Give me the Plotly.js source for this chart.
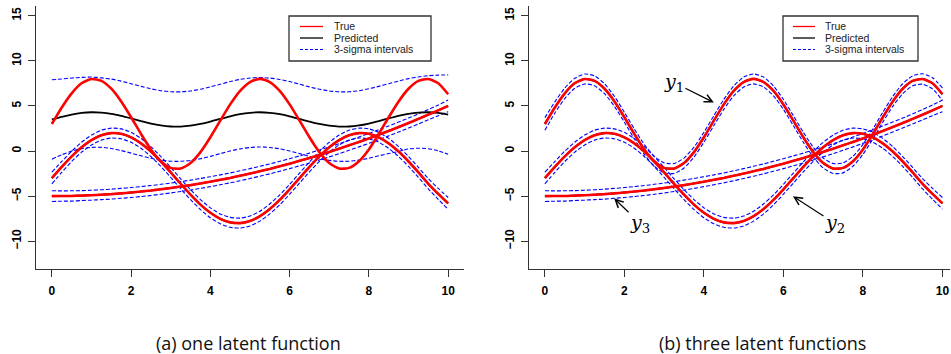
<!DOCTYPE html>
<html>
<head>
<meta charset="utf-8">
<script src="https://cdn.plot.ly/plotly-3.0.1.min.js"></script>
<style>html,body{margin:0;padding:0;background:#fff;}#chart{width:951px;height:354px;}</style>
</head>
<body>
<div id="chart"></div>
<script>
// ---- data ----
const xs = [0,0.25,0.5,0.75,1,1.25,1.5,1.75,2,2.25,2.5,2.75,3,3.25,3.5,3.75,4,4.25,4.5,4.75,5,5.25,5.5,5.75,6,6.25,6.5,6.75,7,7.25,7.5,7.75,8,8.25,8.5,8.75,9,9.25,9.5,9.75,10];

// true outputs
const y1True = [3.00,4.83,6.40,7.51,7.99,7.78,6.91,5.50,3.75,1.89,0.18,-1.13,-1.87,-1.94,-1.33,-0.12,1.53,3.37,5.17,6.67,7.65,8.00,7.65,6.67,5.17,3.37,1.53,-0.12,-1.33,-1.94,-1.87,-1.13,0.18,1.89,3.75,5.50,6.91,7.78,7.99,7.51,6.30];
const y2True = [-3.00,-1.76,-0.59,0.42,1.22,1.76,1.99,1.91,1.52,0.85,-0.06,-1.16,-2.37,-3.63,-4.84,-5.94,-6.85,-7.52,-7.91,-7.99,-7.76,-7.22,-6.42,-5.41,-4.24,-3.00,-1.76,-0.59,0.42,1.22,1.76,1.99,1.91,1.52,0.85,-0.06,-1.16,-2.37,-3.63,-4.75,-5.80];
const y3True = [-5.00,-4.99,-4.98,-4.94,-4.90,-4.84,-4.78,-4.69,-4.60,-4.49,-4.38,-4.24,-4.10,-3.94,-3.78,-3.59,-3.40,-3.19,-2.98,-2.74,-2.50,-2.24,-1.98,-1.69,-1.40,-1.09,-0.78,-0.44,-0.10,0.26,0.63,1.01,1.40,1.81,2.23,2.66,3.10,3.56,4.03,4.51,5.00];

// (a) one latent function: prediction of y1 and its 3-sigma band
const y1PredA = [3.50,3.79,4.04,4.22,4.30,4.26,4.13,3.90,3.62,3.32,3.05,2.84,2.72,2.71,2.81,3.00,3.26,3.56,3.85,4.09,4.24,4.30,4.24,4.09,3.85,3.56,3.26,3.00,2.81,2.71,2.72,2.84,3.05,3.32,3.62,3.90,4.13,4.26,4.30,4.22,4.04];
const y1UpA = [7.90,7.99,8.09,8.17,8.20,8.11,7.98,7.75,7.47,7.17,6.90,6.69,6.57,6.56,6.66,6.85,7.11,7.41,7.70,7.94,8.09,8.15,8.09,7.94,7.70,7.41,7.11,6.85,6.66,6.56,6.57,6.69,6.90,7.17,7.47,7.75,8.03,8.21,8.35,8.42,8.44];
const y1LoA = [-0.90,-0.41,-0.01,0.27,0.40,0.41,0.28,0.05,-0.23,-0.53,-0.80,-1.01,-1.13,-1.14,-1.04,-0.85,-0.59,-0.29,0.00,0.24,0.39,0.45,0.39,0.24,0.00,-0.29,-0.59,-0.85,-1.04,-1.14,-1.13,-1.01,-0.80,-0.53,-0.28,-0.05,0.23,0.31,0.25,0.02,-0.36];

// (b) three latent functions: 3-sigma band of y1
const y1UpB = [3.70,5.45,6.98,8.06,8.54,8.33,7.46,6.05,4.30,2.44,0.73,-0.58,-1.32,-1.39,-0.78,0.43,2.08,3.92,5.72,7.22,8.20,8.55,8.20,7.22,5.72,3.92,2.08,0.43,-0.78,-1.39,-1.32,-0.58,0.73,2.44,4.30,6.05,7.46,8.33,8.57,8.13,7.00];
const y1LoB = [2.30,4.21,5.82,6.96,7.44,7.23,6.36,4.95,3.20,1.34,-0.37,-1.68,-2.42,-2.49,-1.88,-0.67,0.98,2.82,4.62,6.12,7.10,7.45,7.10,6.12,4.62,2.82,0.98,-0.67,-1.88,-2.49,-2.42,-1.68,-0.37,1.34,3.20,4.95,6.36,7.23,7.41,6.89,5.60];

// 3-sigma bands of y2 and y3 (both panels)
const y2Up = [-2.35,-1.16,-0.02,0.97,1.77,2.31,2.54,2.46,2.07,1.40,0.49,-0.61,-1.82,-3.08,-4.29,-5.39,-6.30,-6.97,-7.36,-7.44,-7.21,-6.67,-5.87,-4.86,-3.69,-2.45,-1.21,-0.04,0.97,1.77,2.31,2.54,2.46,2.07,1.40,0.49,-0.61,-1.82,-3.06,-4.15,-5.15];
const y2Lo = [-3.65,-2.36,-1.16,-0.13,0.67,1.21,1.44,1.36,0.97,0.30,-0.61,-1.71,-2.92,-4.18,-5.39,-6.49,-7.40,-8.07,-8.46,-8.54,-8.31,-7.77,-6.97,-5.96,-4.79,-3.55,-2.31,-1.14,-0.13,0.67,1.21,1.44,1.36,0.97,0.30,-0.61,-1.71,-2.92,-4.20,-5.35,-6.45];
const y3Up = [-4.40,-4.42,-4.41,-4.39,-4.35,-4.29,-4.23,-4.14,-4.05,-3.94,-3.83,-3.69,-3.55,-3.39,-3.23,-3.04,-2.85,-2.64,-2.43,-2.19,-1.95,-1.69,-1.43,-1.14,-0.85,-0.54,-0.23,0.11,0.45,0.81,1.18,1.56,1.95,2.36,2.78,3.21,3.65,4.12,4.60,5.10,5.65];
const y3Lo = [-5.60,-5.56,-5.55,-5.49,-5.45,-5.39,-5.33,-5.24,-5.15,-5.04,-4.93,-4.79,-4.65,-4.49,-4.33,-4.14,-3.95,-3.74,-3.53,-3.29,-3.05,-2.79,-2.53,-2.24,-1.95,-1.64,-1.33,-0.99,-0.65,-0.29,0.08,0.46,0.85,1.26,1.68,2.11,2.55,3.00,3.46,3.92,4.35];

const xTicks = [0,2,4,6,8,10];
const yTicks = [-10,-5,0,5,10,15];
const legendLabels = ['True','Predicted','3-sigma intervals'];
const captions = ['(a) one latent function','(b) three latent functions'];
const curveLabels = ['y','y','y'];
const curveSubs = ['1','2','3'];

// ---- styles ----
const RED = '#ff0000', BLACK = '#000000', BLUE = '#0000ff';
const W = 951, H = 354;
const px = v => v / W;
const py = v => 1 - v / H;

function ln(y, xa, ya, color, width, dash) {
  return {x: xs, y: y, xaxis: xa, yaxis: ya, type: 'scatter', mode: 'lines',
          line: {color: color, width: width, dash: dash || 'solid', shape: 'spline', smoothing: 0.6},
          hoverinfo: 'skip', showlegend: false};
}
const DASH = '4px,2px';
const traces = [];
// panel (a)
[y1UpA, y1LoA, y2Up, y2Lo, y3Up, y3Lo].forEach(a => traces.push(ln(a, 'x', 'y', BLUE, 1.1, DASH)));
[y1PredA, y2True, y3True].forEach(a => traces.push(ln(a, 'x', 'y', BLACK, 1.8)));
[y1True, y2True, y3True].forEach(a => traces.push(ln(a, 'x', 'y', RED, 2.6)));
// panel (b)
[y1UpB, y1LoB, y2Up, y2Lo, y3Up, y3Lo].forEach(a => traces.push(ln(a, 'x2', 'y2', BLUE, 1.1, DASH)));
[y1True, y2True, y3True].forEach(a => traces.push(ln(a, 'x2', 'y2', BLACK, 1.8)));
[y1True, y2True, y3True].forEach(a => traces.push(ln(a, 'x2', 'y2', RED, 2.6)));

const tickFont = {family: 'Liberation Sans, Arial, sans-serif', size: 12, weight: 'bold', color: '#000'};
const xCommon = {tickvals: xTicks, ticktext: xTicks.map(String), ticks: 'outside', ticklen: 7, tickwidth: 1,
  tickcolor: '#333', showline: true, linecolor: '#333', linewidth: 1, showgrid: false, zeroline: false,
  tickfont: tickFont, ticklabelstandoff: 4, fixedrange: true};
const yCommon = {tickvals: yTicks, ticktext: yTicks.map(v => v < 0 ? '\u2212' + Math.abs(v) : String(v)),
  ticks: 'outside', ticklen: 7, tickwidth: 1, tickangle: -90,
  tickcolor: '#333', showline: true, linecolor: '#333', linewidth: 1, showgrid: false, zeroline: false,
  tickfont: tickFont, ticklabelstandoff: 2, range: [-13.08, 16.08], domain: [py(269), py(6)], fixedrange: true};

// custom legends (box, sample lines, labels)
const shapes = [], annotations = [];
function legend(x0, x1, y0, y1, sx0, sx1, tx) {
  shapes.push({type: 'rect', xref: 'paper', yref: 'paper', x0: px(x0), x1: px(x1), y0: py(y1), y1: py(y0),
    line: {color: '#333', width: 1.3}, fillcolor: 'rgba(0,0,0,0)', layer: 'above'});
  const rows = [26.5, 38, 49.5];
  const cols = [[RED, 'solid', 1.3], [BLACK, 'solid', 1.3], [BLUE, '3px,2px', 1.1]];
  rows.forEach((ry, i) => {
    shapes.push({type: 'line', xref: 'paper', yref: 'paper', x0: px(sx0), x1: px(sx1), y0: py(ry), y1: py(ry),
      line: {color: cols[i][0], width: cols[i][2], dash: cols[i][1]}, layer: 'above'});
    annotations.push({xref: 'paper', yref: 'paper', x: px(tx), y: py(ry), xanchor: 'left', yanchor: 'middle',
      text: legendLabels[i], showarrow: false,
      font: {family: 'Liberation Sans, Arial, sans-serif', size: 10.5, color: '#222'}});
  });
}
legend(289, 431, 16, 61, 300, 323, 332);
legend(783, 918, 16, 61, 793, 815, 823);

// captions
const capFont = {family: 'Open Sans, Noto Sans, sans-serif', size: 18, color: '#111'};
annotations.push({xref: 'paper', yref: 'paper', x: px(248), y: py(343), text: captions[0], showarrow: false,
  xanchor: 'center', yanchor: 'middle', font: capFont});
annotations.push({xref: 'paper', yref: 'paper', x: px(762), y: py(343), text: captions[1], showarrow: false,
  xanchor: 'center', yanchor: 'middle', font: capFont});

// curve labels with arrows in panel (b)
const arrowPts = [[4.25, 5.38, -40, -20], [6.24, -5.02, 42, 27], [1.74, -5.24, 26, 25]];
arrowPts.forEach((p, i) => {
  annotations.push({xref: 'x2', yref: 'y2', x: p[0], y: p[1], ax: p[2], ay: p[3], axref: 'pixel', ayref: 'pixel',
    text: '<i>' + curveLabels[i] + '</i><sub>' + curveSubs[i] + '</sub>', showarrow: true,
    arrowhead: 5, arrowsize: 1.3, arrowwidth: 1.2, arrowcolor: '#000', standoff: 0,
    font: {family: 'DejaVu Serif, Liberation Serif, serif', size: 19, color: '#000'}});
});

const layout = {
  width: W, height: H, margin: {l: 0, r: 0, t: 0, b: 0},
  paper_bgcolor: '#fff', plot_bgcolor: '#fff', showlegend: false,
  xaxis: Object.assign({}, xCommon, {domain: [px(36), px(464)], range: [-0.4, 10.4], anchor: 'y'}),
  yaxis: Object.assign({}, yCommon, {anchor: 'x'}),
  xaxis2: Object.assign({}, xCommon, {domain: [px(529), px(950)], range: [-0.4, 10.19], anchor: 'y2'}),
  yaxis2: Object.assign({}, yCommon, {anchor: 'x2'}),
  shapes: shapes, annotations: annotations
};
Plotly.newPlot('chart', traces, layout, {displayModeBar: false, staticPlot: true});
</script>
</body>
</html>
